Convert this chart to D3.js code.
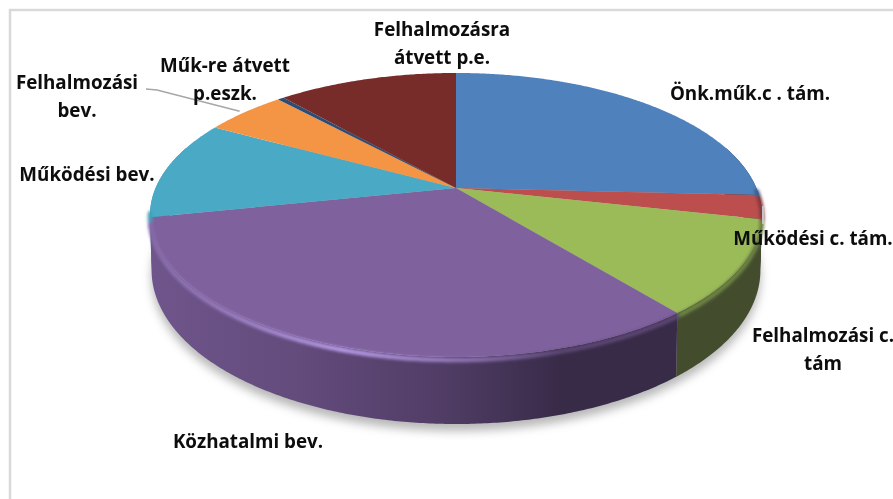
<!DOCTYPE html>
<html>
<head>
<meta charset="utf-8">
<script src="https://cdn.jsdelivr.net/npm/d3@7"></script>
<style>
  html, body { margin: 0; background: #fff; overflow: hidden; }
  text { font-family: "Open Sans", sans-serif; font-weight: 700; font-size: 18.8px; fill: #0a0a0a; }
</style>
</head>
<body>
<div id="chart"></div>
<script>
// Slices run clockwise from 12 o'clock, shares in percent
const categories = [
  'Önk.műk.c . tám.', 'Működési c. tám.', 'Felhalmozási c. tám', 'Közhatalmi bev.',
  'Működési bev.', 'Felhalmozási bev.', 'Műk-re átvett p.eszk.', 'Felhalmozásra átvett p.e.'
];
const shares = [25.8, 2.7, 10.7, 32.5, 11.3, 5.2, 0.4, 11.4];
const colors = ['#4f81bd', '#bc4f4d', '#9bbb59', '#7f619e', '#4aa9c4', '#f39545', '#2c4d75', '#772c2a'];

const width = 893;
const height = 499;
const cx = 456;
const cy = 188;
// tilted disc: a circle seen in perspective, so the apex sits above the ellipse centre
const a = 300.4;
const b = 136.9;
const k = 0.19;

const svg = d3.select('#chart').append('svg').attr('width', width).attr('height', height);
const defs = svg.append('defs');
defs.append('filter').attr('id', 'shadowBlur')
  .attr('x', '-10%').attr('y', '-10%').attr('width', '120%').attr('height', '120%')
  .append('feGaussianBlur').attr('stdDeviation', 5);
defs.append('filter').attr('id', 'rimBlur')
  .attr('filterUnits', 'userSpaceOnUse')
  .attr('x', 0).attr('y', 0).attr('width', width).attr('height', height)
  .append('feGaussianBlur').attr('stdDeviation', 1.6);
defs.append('filter').attr('id', 'textBlur').append('feGaussianBlur').attr('stdDeviation', 0.3);

// outer frame, only the top and left sides fall inside the window
svg.append('rect')
  .attr('x', 10).attr('y', 10)
  .attr('width', width + 20).attr('height', height + 20)
  .attr('fill', 'none').attr('stroke', '#d9d9d9').attr('stroke-width', 2.5);

function project(theta) {
  const u = Math.sin(theta);
  const v = -Math.cos(theta);
  const w = 1 - k * v;
  return { x: cx + (a * u) / w, y: cy + (b * v) / w, v };
}
function lower(p) {
  return { x: cx + (p.x - cx) * 0.995, y: p.y + 52 + 15 * p.v };
}

const pie = d3.pie().sort(null).value((d) => d);
const arcs = pie(shares);
const line = d3.line().x((d) => d.x).y((d) => d.y);
const step = Math.PI / 360;
const sample = (s, e) => {
  const n = Math.max(2, Math.ceil((e - s) / step));
  return d3.range(n + 1).map((i) => s + ((e - s) * i) / n);
};

// soft shadow under the bottom rim
const rim = sample(0, 2 * Math.PI).map((t) => lower(project(t)));
svg.append('path')
  .attr('d', line(rim.map((p) => ({ x: p.x, y: p.y + 7 }))) + 'Z')
  .attr('fill', '#9a9a9a')
  .attr('opacity', 0.7)
  .attr('filter', 'url(#shadowBlur)');

// side wall darkens from left to right
const shade = d3.scaleLinear().domain([150, 300, 450, 560, 770]).range([0.14, 0.25, 0.42, 0.62, 0.62]).clamp(true);
const wallColor = (c, x) => d3.interpolateRgb(c, '#0d0a14')(shade(x));

arcs.forEach((d, i) => {
  const grad = defs.append('linearGradient')
    .attr('id', `wall${i}`)
    .attr('gradientUnits', 'userSpaceOnUse')
    .attr('x1', 150).attr('x2', 770).attr('y1', 0).attr('y2', 0);
  shade.domain().forEach((x) => {
    grad.append('stop')
      .attr('offset', (x - 150) / 620)
      .attr('stop-color', wallColor(colors[i], x));
  });
});

// walls go back to front so the nearer slice covers the farther one
const wallArcs = arcs
  .map((d, i) => ({
    i,
    s: Math.max(d.startAngle, Math.PI * 0.4),
    e: Math.min(d.endAngle, Math.PI * 1.6)
  }))
  .filter((d) => d.e > d.s)
  .sort((p, q) => project((p.s + p.e) / 2).v - project((q.s + q.e) / 2).v);

svg.append('g')
  .selectAll('path')
  .data(wallArcs)
  .join('path')
  .attr('fill', (d) => `url(#wall${d.i})`)
  .attr('d', (d) => {
    const upper = sample(d.s, d.e).map(project);
    return line([...upper, ...upper.slice().reverse().map(lower)]) + 'Z';
  });

// top face
svg.append('g')
  .selectAll('path')
  .data(arcs)
  .join('path')
  .attr('fill', (d, i) => colors[i])
  .attr('d', (d) => line([{ x: cx, y: cy }, ...sample(d.startAngle, d.endAngle).map(project)]) + 'Z');

// bevel between the face and the wall, purple catches the light on its left part
const glow = d3.scaleLinear().domain([150, 240, 340, 450, 560]).range([0.25, 0.6, 1, 0.55, 0]).clamp(true);
const rimGroup = svg.append('g').attr('filter', 'url(#rimBlur)');
arcs.forEach((d, i) => {
  const s = Math.max(d.startAngle, Math.PI * 0.5);
  const e = Math.min(d.endAngle, Math.PI * 1.45);
  if (e <= s) return;
  d3.pairs(sample(s, e)).forEach(([t0, t1]) => {
    const p0 = project(t0);
    const p1 = project(t1);
    const mx = (p0.x + p1.x) / 2;
    const base = d3.interpolateRgb(colors[i], wallColor(colors[i], mx))(0.5);
    const c = i === 3 ? d3.interpolateRgb(base, '#b69ae6')(glow(mx)) : base;
    rimGroup.append('path')
      .attr('d', line([{ x: p0.x, y: p0.y + 3 }, { x: p1.x, y: p1.y + 3 }]))
      .attr('fill', 'none')
      .attr('stroke', c)
      .attr('stroke-width', 4.5)
      .attr('stroke-linecap', 'round');
  });
});

// leader lines
const orangeEnd = project((arcs[5].startAngle + arcs[5].endAngle) / 2);
svg.append('path')
  .attr('d', line([{ x: 146, y: 89 }, { x: 157, y: 90 }, { x: orangeEnd.x - 5, y: orangeEnd.y - 1 }]))
  .attr('fill', 'none').attr('stroke', '#a6a6a6').attr('stroke-width', 1.4);
svg.append('path')
  .attr('d', 'M763,206V224')
  .attr('fill', 'none').attr('stroke', '#c4c4c4').attr('stroke-width', 2);

// labels, split on the same lines as the original
const labelLines = [
  ['Önk.műk.c . tám.'],
  ['Működési c. tám.'],
  ['Felhalmozási c.', 'tám'],
  ['Közhatalmi bev.'],
  ['Működési bev.'],
  ['Felhalmozási', 'bev.'],
  ['Műk-re átvett', 'p.eszk.'],
  ['Felhalmozásra', 'átvett p.e.']
];
const labelPos = [[750, 100], [813, 245], [823, 342], [248, 448], [87, 181], [77, 89], [225, 72], [442, 36]];
const lineGap = 27.5;

const labels = svg.append('g').attr('filter', 'url(#textBlur)');
categories.forEach((name, i) => {
  const t = labels.append('text')
    .attr('text-anchor', 'middle')
    .attr('x', labelPos[i][0])
    .attr('y', labelPos[i][1])
    .attr('aria-label', name);
  labelLines[i].forEach((l, j) => {
    t.append('tspan').attr('x', labelPos[i][0]).attr('dy', j ? lineGap : 0).text(l);
  });
});
</script>
</body>
</html>
